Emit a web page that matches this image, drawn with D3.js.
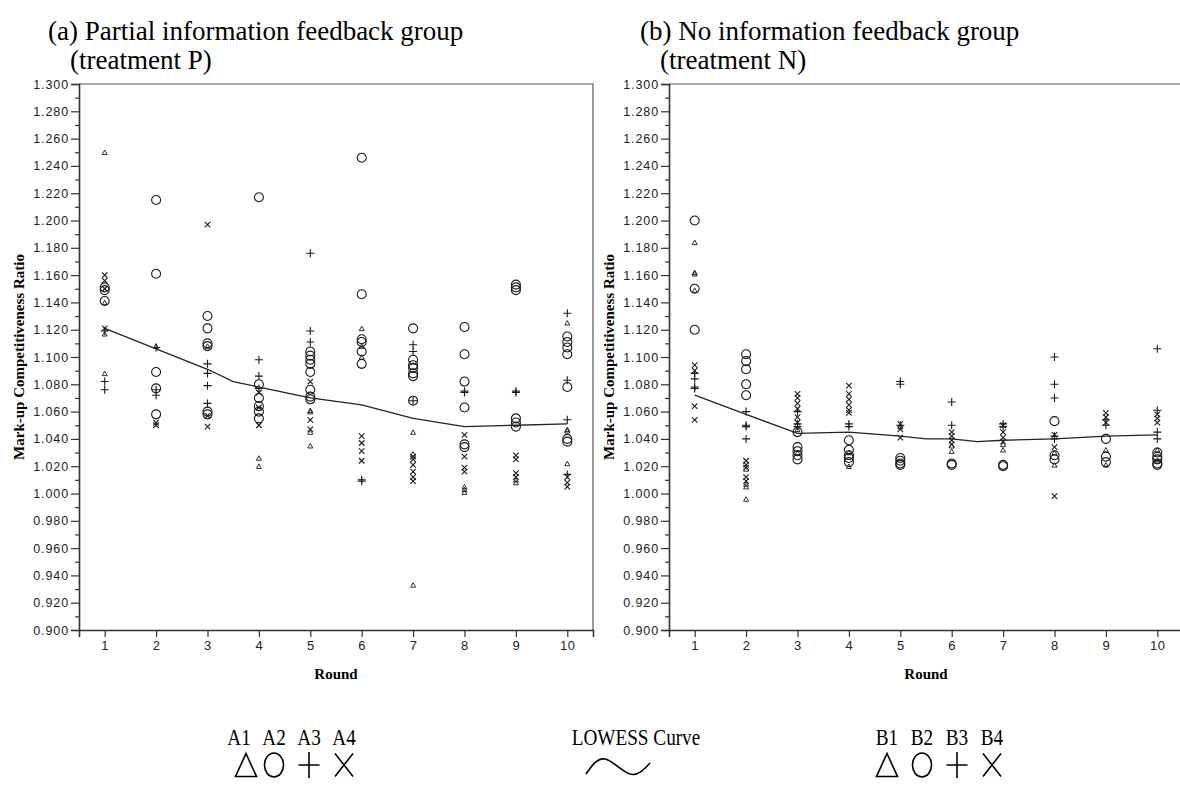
<!DOCTYPE html>
<html>
<head>
<meta charset="utf-8">
<script src="https://cdn.jsdelivr.net/npm/d3@7"></script>
<style>
  body { margin: 0; background: #fff; }
  svg { display: block; font-family: "Liberation Serif", "Times New Roman", serif; }
</style>
</head>
<body>
<div id="chart"></div>
<script>
const rounds = [1, 2, 3, 4, 5, 6, 7, 8, 9, 10];
const yTicks = [0.90, 0.92, 0.94, 0.96, 0.98, 1.00, 1.02, 1.04, 1.06, 1.08, 1.10,
                1.12, 1.14, 1.16, 1.18, 1.20, 1.22, 1.24, 1.26, 1.28, 1.30];
const yMinorTicks = [0.91, 0.93, 0.95, 0.97, 0.99, 1.01, 1.03, 1.05, 1.07, 1.09,
                     1.11, 1.13, 1.15, 1.17, 1.19, 1.21, 1.23, 1.25, 1.27, 1.29];

// treatment P, one list of ratios per round (round 1 first)
const pTriangle = [[1.250, 1.117, 1.088, 1.140], [1.108], [1.108], [1.026, 1.020],
  [1.061, 1.060, 1.045, 1.035], [1.121, 1.108, 1.100], [1.045, 1.029, 0.933],
  [1.005, 1.003, 1.001], [1.010, 1.008], [1.125, 1.047, 1.046, 1.022]];
const pCircle = [[1.151, 1.149, 1.141], [1.215, 1.161, 1.089, 1.077, 1.058],
  [1.130, 1.121, 1.110, 1.108, 1.060, 1.058], [1.217, 1.080, 1.070, 1.064, 1.060, 1.055],
  [1.104, 1.101, 1.098, 1.095, 1.089, 1.076, 1.071, 1.069],
  [1.246, 1.146, 1.113, 1.111, 1.104, 1.095],
  [1.121, 1.098, 1.094, 1.092, 1.088, 1.086, 1.068],
  [1.122, 1.102, 1.082, 1.063, 1.036, 1.034],
  [1.153, 1.151, 1.149, 1.055, 1.052, 1.049],
  [1.115, 1.111, 1.107, 1.102, 1.078, 1.040, 1.038]];
const pPlus = [[1.119, 1.082, 1.076], [1.107, 1.076, 1.072], [1.095, 1.088, 1.079, 1.066],
  [1.098, 1.086, 1.077], [1.176, 1.119, 1.111], [1.010, 1.009], [1.109, 1.104, 1.068],
  [1.075, 1.074], [1.075, 1.074], [1.132, 1.083, 1.054, 1.014]];
const pCross = [[1.160, 1.156, 1.150, 1.121], [1.052, 1.050], [1.197, 1.057, 1.049],
  [1.074, 1.063, 1.050], [1.082, 1.054, 1.047], [1.042, 1.037, 1.031, 1.024],
  [1.027, 1.025, 1.021, 1.016, 1.012, 1.009], [1.043, 1.027, 1.019, 1.016],
  [1.028, 1.025, 1.015, 1.012], [1.012, 1.008, 1.005]];
const pLowessRound = [1, 2, 3, 3.5, 4, 5, 6, 7, 8, 9, 10];
const pLowessValue = [1.121, 1.106, 1.091, 1.082, 1.078, 1.070, 1.065, 1.055, 1.049, 1.050, 1.051];

// treatment N
const nTriangle = [[1.184, 1.162, 1.161, 1.149], [1.018, 1.007, 1.005, 0.996], [1.047, 1.030],
  [1.030, 1.020], [1.049], [1.035, 1.031], [1.036, 1.032], [1.030, 1.021], [1.032, 1.021],
  [1.032, 1.024]];
const nCircle = [[1.200, 1.150, 1.120], [1.102, 1.097, 1.091, 1.080, 1.072],
  [1.045, 1.034, 1.031, 1.028, 1.025], [1.039, 1.032, 1.028, 1.026, 1.023],
  [1.026, 1.024, 1.022, 1.021], [1.022, 1.021], [1.021, 1.020], [1.053, 1.028, 1.025],
  [1.040, 1.027, 1.023], [1.030, 1.027, 1.025, 1.022, 1.021]];
const nPlus = [[1.088, 1.084, 1.078, 1.077], [1.060, 1.050, 1.049, 1.040], [1.060, 1.051, 1.049],
  [1.051, 1.049], [1.082, 1.080, 1.050], [1.067, 1.050], [1.051, 1.049],
  [1.100, 1.080, 1.070, 1.042, 1.040], [1.054, 1.050], [1.106, 1.061, 1.045, 1.040]];
const nCross = [[1.094, 1.090, 1.064, 1.054], [1.024, 1.021, 1.019, 1.012, 1.009],
  [1.073, 1.070, 1.066, 1.062, 1.056, 1.052], [1.079, 1.073, 1.069, 1.065, 1.061, 1.059],
  [1.051, 1.047, 1.041], [1.045, 1.042, 1.039, 1.036], [1.050, 1.045, 1.041, 1.038],
  [1.043, 1.034, 0.998], [1.059, 1.056, 1.052], [1.058, 1.055, 1.052]];
const nLowessRound = [1, 2, 3, 4, 5, 5.5, 6, 6.5, 7, 8, 9, 10];
const nLowessValue = [1.072, 1.058, 1.044, 1.045, 1.042, 1.040, 1.040, 1.038, 1.039, 1.040, 1.042, 1.043];

const legendA = ["A1", "A2", "A3", "A4"];
const legendB = ["B1", "B2", "B3", "B4"];
const shapeOrder = ["tri", "circ", "plus", "cross"];

const width = 1180, height = 785;
const ink = "#1a1a1a";

const svg = d3.select("#chart").append("svg")
  .attr("width", width)
  .attr("height", height);

// outline shapes, w x h box centred on 0,0
const shapePath = {
  tri: (w, h) => `M0,${-h / 2}L${w / 2},${h / 2}L${-w / 2},${h / 2}Z`,
  circ: (w, h) => `M${w / 2},0A${w / 2},${h / 2} 0 1,1 ${-w / 2},0A${w / 2},${h / 2} 0 1,1 ${w / 2},0Z`,
  plus: (w, h) => `M${-w / 2},0H${w / 2}M0,${-h / 2}V${h / 2}`,
  cross: (w, h) => `M${-w / 2},${-h / 2}L${w / 2},${h / 2}M${w / 2},${-h / 2}L${-w / 2},${h / 2}`
};
const markSize = { tri: [5, 4.5], circ: [9, 9], plus: [8, 8], cross: [5.5, 5.5] };
const keySize = { tri: [21, 23], circ: [19, 24], plus: [21, 26], cross: [18, 23] };

function flatten(series) {
  let out = [];
  series.forEach((vals, i) => vals.forEach((v) => out.push({ round: rounds[i], value: v })));
  return out;
}

function panel(opt) {
  const x = d3.scaleLinear().domain([0.5, 10.5]).range([opt.left, opt.left + 514]);
  const y = d3.scaleLinear().domain([0.9, 1.3]).range([630, 84]);

  const g = svg.append("g");

  // frame: top and right
  g.append("path")
    .attr("d", `M${x(0.5)},${y(1.3)}H${x(10.5)}V${y(0.9)}`)
    .attr("fill", "none")
    .attr("stroke", "#555")
    .attr("stroke-width", 1.2);

  const yAxis = d3.axisLeft(y).tickValues(yTicks).tickFormat(d3.format(".3f"))
    .tickSize(8).tickPadding(2);
  const gy = g.append("g")
    .attr("transform", `translate(${x(0.5)},0)`)
    .call(yAxis);
  gy.selectAll("text")
    .style("font-size", "12.5px")
    .style("letter-spacing", "0.9px")
    .attr("fill", "#222");

  g.append("g")
    .attr("transform", `translate(${x(0.5)},0)`)
    .call(d3.axisLeft(y).tickValues(yMinorTicks).tickFormat("").tickSize(4))
    .select(".domain").remove();

  const xAxis = d3.axisBottom(x).tickValues(rounds).tickSize(7).tickPadding(4);
  const gx = g.append("g")
    .attr("transform", `translate(0,${y(0.9)})`)
    .call(xAxis);
  gx.selectAll("text")
    .style("font-size", "13px")
    .style("letter-spacing", "0.6px")
    .attr("fill", "#222");

  g.selectAll(".domain").attr("stroke", "#333").attr("stroke-width", 1.6);
  g.selectAll(".tick line").attr("stroke", "#333").attr("stroke-width", 1.2);

  g.append("text")
    .attr("x", (x(0.5) + x(10.5)) / 2)
    .attr("y", 679)
    .attr("text-anchor", "middle")
    .style("font-size", "15px")
    .style("font-weight", "bold")
    .text("Round");

  g.append("text")
    .attr("transform", `translate(${opt.left - 55},357) rotate(-90)`)
    .attr("text-anchor", "middle")
    .style("font-size", "15px")
    .style("font-weight", "bold")
    .text("Mark-up Competitiveness Ratio");

  // data marks
  opt.series.forEach((series, k) => {
    const shape = shapeOrder[k];
    g.append("g").selectAll("path")
      .data(flatten(series))
      .enter()
      .append("path")
      .attr("d", shapePath[shape](...markSize[shape]))
      .attr("transform", (d) => `translate(${x(d.round)},${y(d.value)})`)
      .attr("fill", "none")
      .attr("stroke", ink)
      .attr("stroke-width", shape === "tri" ? 0.9 : 1.1);
  });

  // LOWESS curve
  const line = d3.line()
    .x((d, i) => x(opt.lowessRound[i]))
    .y((d) => y(d));
  g.append("path")
    .attr("d", line(opt.lowessValue))
    .attr("fill", "none")
    .attr("stroke", "#222")
    .attr("stroke-width", 1.3);

  // titles
  g.append("text")
    .attr("x", opt.titleX)
    .attr("y", 40)
    .style("font-size", "27px")
    .text(opt.title1);
  g.append("text")
    .attr("x", opt.title2X)
    .attr("y", 69)
    .style("font-size", "27px")
    .text(opt.title2);
}

panel({
  left: 79, titleX: 48, title2X: 70,
  title1: "(a) Partial information feedback group", title2: "(treatment P)",
  series: [pTriangle, pCircle, pPlus, pCross],
  lowessRound: pLowessRound, lowessValue: pLowessValue
});
panel({
  left: 669, titleX: 640, title2X: 660,
  title1: "(b) No information feedback group", title2: "(treatment N)",
  series: [nTriangle, nCircle, nPlus, nCross],
  lowessRound: nLowessRound, lowessValue: nLowessValue
});

// legend
function keyText(label, cx) {
  svg.append("text")
    .attr("transform", `translate(${cx},745) scale(0.8,1)`)
    .attr("text-anchor", "middle")
    .style("font-size", "24px")
    .text(label);
}

function keyGroup(labels, textX, symX) {
  labels.forEach((d, i) => keyText(d, textX[i]));
  svg.append("g").selectAll("path")
    .data(shapeOrder)
    .enter()
    .append("path")
    .attr("d", (s) => shapePath[s](...keySize[s]))
    .attr("transform", (s, i) => `translate(${symX[i]},765)`)
    .attr("fill", "none")
    .attr("stroke", "#000")
    .attr("stroke-width", 1.6);
}
keyGroup(legendA, [239, 274, 309, 344], [246, 274, 309, 344]);
keyGroup(legendB, [887, 922, 957, 992], [887, 922, 957, 992]);

keyText("LOWESS Curve", 636);

// little wave glyph for the curve key
const wave = [[-32, 8], [-13, -7], [12, 8], [32, -3]];
svg.append("path")
  .attr("d", d3.line().curve(d3.curveNatural)(wave))
  .attr("transform", "translate(618,766)")
  .attr("fill", "none")
  .attr("stroke", "#000")
  .attr("stroke-width", 1.6);
</script>
</body>
</html>
